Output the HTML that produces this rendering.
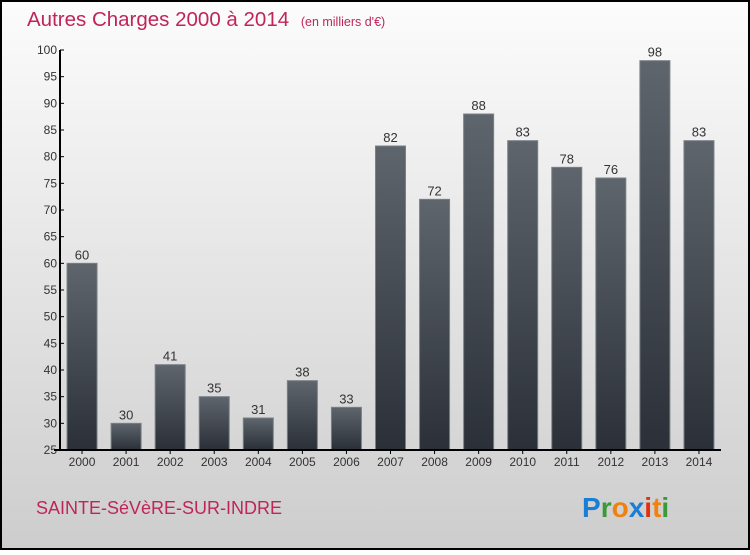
<!DOCTYPE html>
<html><head><meta charset="utf-8"><style>
body{margin:0;width:750px;height:550px;overflow:hidden;font-family:"Liberation Sans",sans-serif}
</style></head><body>
<svg width="750" height="550" xmlns="http://www.w3.org/2000/svg">
<defs>
<linearGradient id="bg" x1="0" y1="0" x2="0" y2="1"><stop offset="0" stop-color="#fcfcfc"/><stop offset="1" stop-color="#cdcdcd"/></linearGradient>
<linearGradient id="bar" x1="0" y1="0" x2="0" y2="1"><stop offset="0" stop-color="#5f656c"/><stop offset="1" stop-color="#2b3038"/></linearGradient>
</defs>
<rect x="1" y="1" width="748" height="548" fill="url(#bg)" stroke="#000" stroke-width="2"/>
<text x="27" y="26" font-size="20.5" fill="#c0255a">Autres Charges 2000 à 2014 <tspan font-size="12.5" dx="6">(en milliers d'€)</tspan></text>
<g id="plot"></g>
<text x="36" y="514" font-size="18" fill="#c0255a">SAINTE-SéVèRE-SUR-INDRE</text>
<text x="582" y="517" font-size="28" font-weight="bold"><tspan fill="#1a7fd4">P</tspan><tspan fill="#3a9a3a">r</tspan><tspan fill="#f08010">o</tspan><tspan fill="#1a7fd4">x</tspan><tspan fill="#e03010">i</tspan><tspan fill="#f08010">t</tspan><tspan fill="#3a9a3a">i</tspan></text>
</svg>
<script>
const categories=["2000","2001","2002","2003","2004","2005","2006","2007","2008","2009","2010","2011","2012","2013","2014"];
const values=[60,30,41,35,31,38,33,82,72,88,83,78,76,98,83];
const yTicks=[25,30,35,40,45,50,55,60,65,70,75,80,85,90,95,100];
const NS="http://www.w3.org/2000/svg";
const g=document.getElementById('plot');
const X0=60,X1=721,Y0=450,Y1=50,ymin=25,ymax=100;
const band=(X1-X0)/categories.length;
const y=v=>Y0-(v-ymin)/(ymax-ymin)*(Y0-Y1);
const x=i=>X0+band*i+band/2;
function el(t,a){const e=document.createElementNS(NS,t);for(const k in a)e.setAttribute(k,a[k]);g.appendChild(e);return e;}
values.forEach((v,i)=>{
 const r=el('rect',{x:x(i)-15,y:y(v),width:30,height:Y0-y(v),fill:'url(#bar)',stroke:'#7a8088','stroke-width':1});
 
 
 const t=el('text',{x:x(i),y:y(v)-4,'text-anchor':'middle','font-size':13,fill:'#333'});t.textContent=v;
 
 
 const c=el('text',{x:x(i),y:Y0+16,'text-anchor':'middle','font-size':12,fill:'#333'});c.textContent=categories[i];
 
 
 const tk=el('line',{x1:x(i),x2:x(i),y1:Y0,y2:Y0+4,stroke:'#000'});
 
 
});
yTicks.forEach(v=>{
 const l=el('line',{x1:X0,x2:X0+4,y1:y(v),y2:y(v),stroke:'#000'});
 
 
 const t=el('text',{x:X0-3,y:y(v)+4,'text-anchor':'end','font-size':12,fill:'#333'});t.textContent=v;
 
 
});
const ya=el('line',{x1:X0,x2:X0,y1:Y1,y2:Y0,stroke:'#000','stroke-width':2});


const xa=el('line',{x1:X0-6,x2:X1,y1:Y0,y2:Y0,stroke:'#000','stroke-width':2});


</script>
</body></html>
